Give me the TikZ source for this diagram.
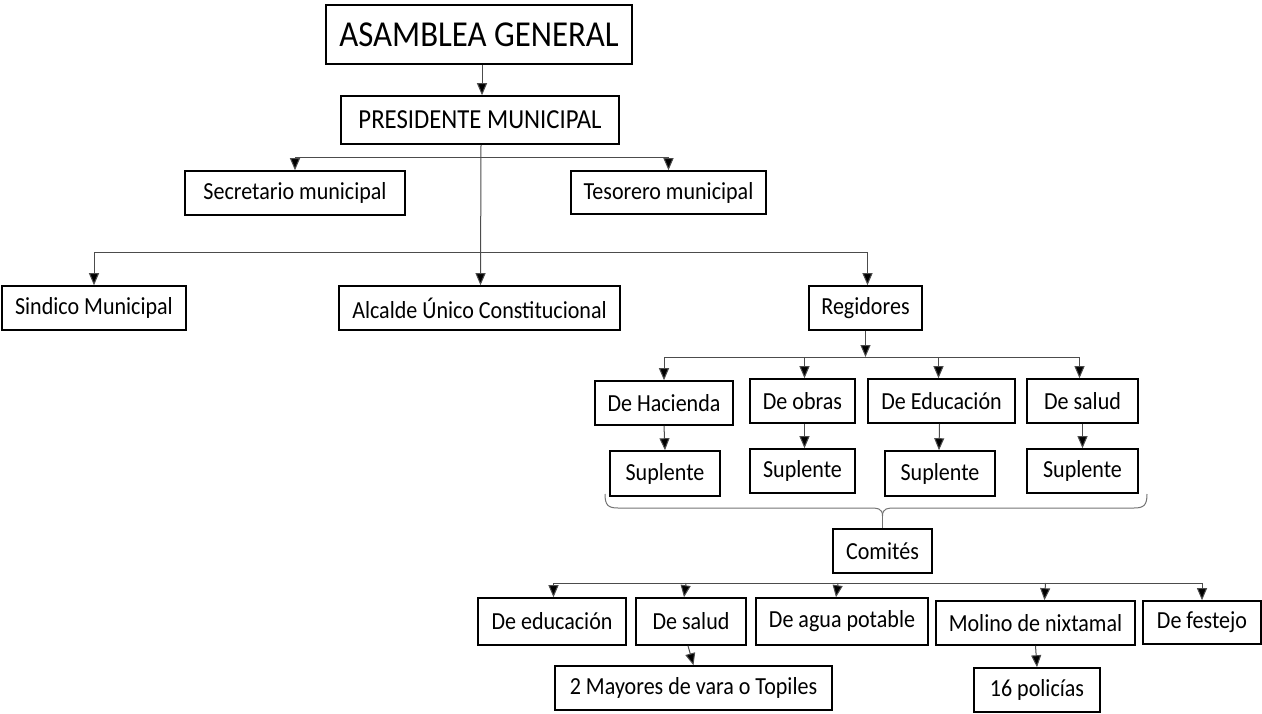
\documentclass[tikz,border=0pt]{standalone}
\usepackage{fontspec}
\setmainfont{Carlito}[FakeStretch=0.9]
\usetikzlibrary{arrows.meta,calc}
\begin{document}
\begin{tikzpicture}[x=1pt,y=-1pt,
  box/.style={draw=black, line width=1.6pt, fill=white, inner sep=0pt,
    font=\fontsize{24.5}{28}\selectfont, text=black},
  link/.style={draw=black!70, line width=1pt},
  arr/.style={link, -{Triangle[length=12pt,width=10pt,fill=black]}},
]
\useasboundingbox (0,0) rectangle (1262,713);

% top of the organisation
\node[box, minimum width=306, minimum height=59, font=\fontsize{36.5}{40}\selectfont] (ag) at (479,34.5) {ASAMBLEA GENERAL};
\node[box, minimum width=278, minimum height=48, font=\fontsize{27.5}{32}\selectfont] (pm) at (480,120) {PRESIDENTE MUNICIPAL};
\node[box, minimum width=220, minimum height=44] (sec) at (295,193) {Secretario municipal};
\node[box, minimum width=195, minimum height=43] (tes) at (668.5,192.5) {Tesorero municipal};

% second level
\node[box, minimum width=184, minimum height=44] (sin) at (94,308) {Sindico Municipal};
\node[box, minimum width=281, minimum height=44] (alc) at (479.5,308) {Alcalde Único Constitucional};
\node[box, minimum width=113, minimum height=44] (reg) at (865.5,308) {Regidores};

% regidores
\node[box, minimum width=138, minimum height=44] (dh) at (664,403) {De Hacienda};
\node[box, minimum width=105, minimum height=44] (dob) at (802.5,401) {De obras};
\node[box, minimum width=147, minimum height=44] (ded) at (941.5,401) {De Educación};
\node[box, minimum width=111, minimum height=44] (dsa) at (1082.5,401) {De salud};
\node[box, minimum width=110, minimum height=45] (s1) at (665,473.5) {Suplente};
\node[box, minimum width=105, minimum height=44] (s2) at (802.5,471) {Suplente};
\node[box, minimum width=110, minimum height=45] (s3) at (940,473.5) {Suplente};
\node[box, minimum width=111, minimum height=44] (s4) at (1082.5,471) {Suplente};

% comites
\node[box, minimum width=99, minimum height=44] (com) at (882.5,551) {Comités};
\node[box, minimum width=148, minimum height=47] (ced) at (552,621.5) {De educación};
\node[box, minimum width=110, minimum height=47] (csa) at (691,621.5) {De salud};
\node[box, minimum width=172, minimum height=47] (cag) at (842,621.5) {De agua potable};
\node[box, minimum width=199, minimum height=44] (cmo) at (1035.5,623) {Molino de nixtamal};
\node[box, minimum width=118, minimum height=43] (cfe) at (1202,622.5) {De festejo};
\node[box, minimum width=277, minimum height=44] (may) at (693.5,688) {2 Mayores de vara o Topiles};
\node[box, minimum width=126, minimum height=44] (pol) at (1037,690) {16 policías};

% junction points of the buses
\coordinate (j1) at (480,157);
\coordinate (j2) at (480,252);
\coordinate (j3) at (866,357);
\coordinate (j4) at (880,583);

% connectors
\draw[arr] ([xshift=3pt]ag.south) -- ([xshift=2pt]pm.north);
\draw[arr] ([xshift=1pt]pm.south) -- ([xshift=1pt]alc.north);
\draw[arr] (j1) -| (sec.north);
\draw[arr] (j1) -| (tes.north);
\draw[arr] (j2) -| (sin.north);
\draw[arr] (j2) -| ([xshift=2pt]reg.north);

\draw[arr] (reg.south) -- (reg.south |- j3);
\draw[link] (dh.north |- j3) -- ([xshift=-3pt]dsa.north |- j3);
\draw[arr] (dh.north |- j3) -- (dh.north);
\draw[arr] ([xshift=2pt]dob.north |- j3) -- ([xshift=2pt]dob.north);
\draw[arr] ([xshift=-3pt]ded.north |- j3) -- ([xshift=-3pt]ded.north);
\draw[arr] ([xshift=-3pt]dsa.north |- j3) -- ([xshift=-3pt]dsa.north);

\draw[arr] (dh.south) -- (s1.north);
\draw[arr] ([xshift=2pt]dob.south) -- ([xshift=2pt]s2.north);
\draw[arr] ([xshift=-2pt]ded.south) -- ([xshift=-1pt]s3.north);
\draw[arr] (dsa.south) -- (s4.north);

% brace gathering the regidores
\draw[link, draw=black!55] (605,494) .. controls (605,505) and (608,508) .. (618,508)
  -- (870,508) .. controls (877,508) and (com.north |- 0,508) .. (com.north |- 0,516);
\draw[link, draw=black!55] (1147,494) .. controls (1147,505) and (1144,508) .. (1134,508)
  -- (895,508) .. controls (888,508) and (com.north |- 0,508) .. (com.north |- 0,516);
\draw[link, draw=black!55] (com.north |- 0,516) -- (com.north);

% committees bus
\draw[link] ([xshift=1.5pt]ced.north |- j4) -- (cfe.north |- j4);
\draw[arr] ([xshift=1.5pt]ced.north |- j4) -- ([xshift=1.5pt]ced.north);
\draw[arr] ([xshift=-5pt]csa.north |- j4) -- ([xshift=-7pt]csa.north);
\draw[arr] ([xshift=-4pt]cag.north |- j4) -- ([xshift=-6pt]cag.north);
\draw[arr] ([xshift=10pt]cmo.north |- j4) -- ([xshift=9pt]cmo.north);
\draw[arr] (cfe.north |- j4) -- (cfe.north);

\draw[arr] ([xshift=-3pt]csa.south) -- (may.north);
\draw[arr] (cmo.south) -- (pol.north);
\end{tikzpicture}
\end{document}
